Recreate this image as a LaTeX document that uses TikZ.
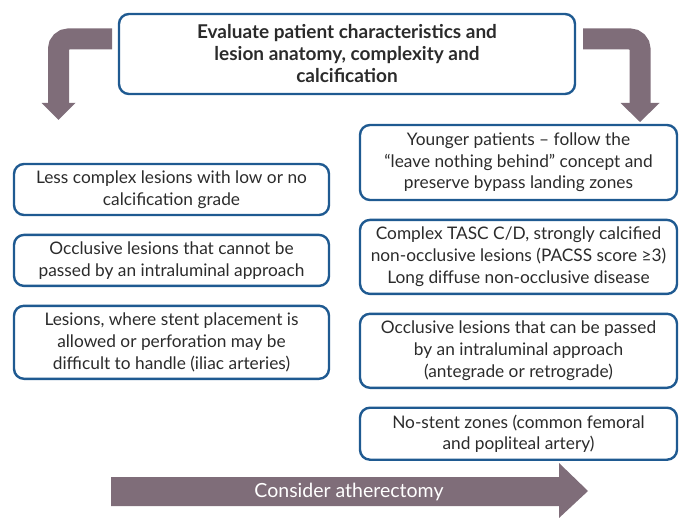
\documentclass[tikz,border=0pt]{standalone}
\usepackage{fontspec}
\setmainfont{Lato}
\usetikzlibrary{positioning,calc}

\definecolor{boxblue}{HTML}{1F5A91}
\definecolor{mauve}{HTML}{7F6D79}
\definecolor{txtgray}{HTML}{2B2B2B}

\begin{document}
\begin{tikzpicture}[
        x=1pt, y=-1pt,
        node distance=17.5pt,
        box/.style={
            draw=boxblue,
            line width=2.4pt,
            rounded corners=10pt,
            align=center,
            text=txtgray,
            inner sep=1pt,
            font=\fontsize{17.3}{21.7}\selectfont
        },
        leftbox/.style={box, minimum width=315pt},
        rightbox/.style={box, minimum width=317pt},
        fatline/.style={draw=mauve, line width=21pt, rounded corners=10pt}
    ]
    \useasboundingbox (0,0) rectangle (684,518);

    % top box
    \node[box, minimum width=456pt, minimum height=80pt,
          font=\bfseries\fontsize{19}{22}\selectfont] (eval) at (347,54)
        {Evaluate patient characteristics and\\lesion anatomy, complexity and\\calcification};

    % left column
    \node[leftbox, minimum height=51pt] (less) at (171.5,189.5)
        {Less complex lesions with low or no\\calcification grade};
    \node[leftbox, minimum height=51pt, below=of less] (occl)
        {Occlusive lesions that cannot be\\passed by an intraluminal approach};
    \node[leftbox, minimum height=73pt, below=of occl] (stent)
        {Lesions, where stent placement is\\allowed or perforation may be\\difficult to handle (iliac arteries)};

    % right column
    \node[rightbox, minimum height=75pt] (young) at (518.5,162.5)
        {Younger patients – follow the\\“leave nothing behind” concept and\\preserve bypass landing zones};
    \node[rightbox, minimum height=74pt, below=of young] (tasc)
        {Complex TASC C/D, strongly calcified\\non-occlusive lesions (PACSS score ≥3)\\Long diffuse non-occlusive disease};
    \node[rightbox, minimum height=74pt, below=of tasc] (pass)
        {Occlusive lesions that can be passed\\by an intraluminal approach\\(antegrade or retrograde)};
    \node[rightbox, minimum height=52pt, below=of pass] (nostent)
        {No-stent zones (common femoral\\and popliteal artery)};

    % bent arrows
    \coordinate (lstart) at (112,39);
    \coordinate (lend) at (58.5,104);
    \draw[fatline] (lstart) -| (lend);
    \fill[mauve] ($(lend)+(-17,-1)$) -- ($(lend)+(17,-1)$) -- ($(lend)+(0,16)$) -- cycle;

    \coordinate (rstart) at (583,39);
    \coordinate (rend) at (640,104);
    \draw[fatline] (rstart) -| (rend);
    \fill[mauve] ($(rend)+(-19.5,-1)$) -- ($(rend)+(19.5,-1)$) -- ($(rend)+(0,18)$) -- cycle;

    % bottom arrow
    \fill[mauve] (111,477) -- (559,477) -- (559,463) -- (588,491) -- (559,518)
        -- (559,506) -- (111,506) -- cycle;
    \node[text=white, font=\fontsize{19.5}{22}\selectfont] (ather) at (349,491.5)
        {Consider atherectomy};

\end{tikzpicture}
\end{document}
